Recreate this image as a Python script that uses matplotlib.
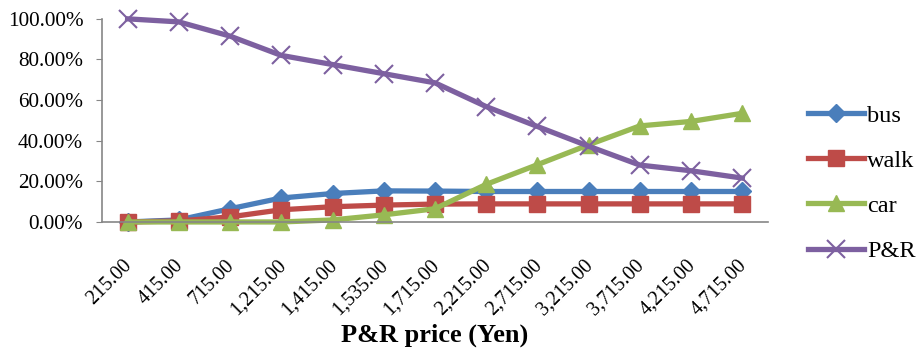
import numpy as np
import matplotlib
matplotlib.use("Agg")
import matplotlib.pyplot as plt
import matplotlib.transforms as mtransforms
from matplotlib.ticker import PercentFormatter

plt.rcParams['font.family'] = ['Liberation Serif', 'DejaVu Serif']

prices = ['215.00', '415.00', '715.00', '1,215.00', '1,415.00', '1,535.00', '1,715.00',
          '2,215.00', '2,715.00', '3,215.00', '3,715.00', '4,215.00', '4,715.00']
bus = [0.0, 1.0, 6.5, 11.8, 14.0, 15.3, 15.2, 15.0, 15.0, 15.0, 15.0, 15.0, 15.0]
walk = [0.0, 0.5, 2.5, 6.0, 7.5, 8.3, 8.8, 8.9, 8.9, 8.9, 8.9, 8.9, 8.9]
car = [0.0, 0.0, 0.0, 0.0, 1.0, 3.5, 6.5, 18.5, 28.2, 38.0, 47.3, 49.5, 53.5]
pr = [100.0, 98.5, 91.5, 82.0, 77.5, 73.0, 68.5, 56.8, 47.0, 37.3, 28.0, 25.2, 21.6]

fig = plt.figure(figsize=(9.23, 3.49), dpi=100)
ax = fig.add_axes([0.1105, 0.364, 0.7215, 0.582])
x = np.arange(len(prices))

ax.plot(x, bus, color='#4A7EBB', lw=3.8, marker='D', ms=9, label='bus')
ax.plot(x, walk, color='#BE4B48', lw=3.8, marker='s', ms=11, label='walk')
ax.plot(x, car, color='#98B954', lw=3.8, marker='^', ms=12, label='car')
ax.plot(x, pr, color='#7D60A0', lw=3.8, marker='x', ms=13, mew=1.5, label='P&R')

ax.set_xlim(-0.5, len(prices) - 0.5)
ax.set_ylim(0, 100)
ax.set_yticks(np.arange(0, 101, 20))
ax.yaxis.set_major_formatter(PercentFormatter(decimals=2))
ax.set_xticks(x)
ax.set_xticklabels(prices, rotation=45, ha='right', rotation_mode='anchor')
ax.tick_params(axis='y', labelsize=15.3, length=4.5, color='#868686', pad=9)
ax.tick_params(axis='x', labelsize=14.5, length=0, pad=16)
shift = mtransforms.ScaledTranslation(-5 / 100, -12 / 100, fig.dpi_scale_trans)
for lab in ax.get_xticklabels():
    lab.set_transform(lab.get_transform() + shift)
for s in ['top', 'right']:
    ax.spines[s].set_visible(False)
for s in ['left', 'bottom']:
    ax.spines[s].set_color('#868686')
    ax.spines[s].set_linewidth(1.2)
for ln in ax.lines:
    ln.set_clip_on(False)

ax.set_xlabel('P&R price (Yen)', fontsize=19, fontweight='bold')
ax.xaxis.set_label_coords(0.5, -0.5)
ax.legend(loc='center left', bbox_to_anchor=(1.027, 0.19), frameon=False, fontsize=17.5,
          handlelength=2.3, labelspacing=0.95, handletextpad=0.15)

fig.savefig('out.png', dpi=100)
